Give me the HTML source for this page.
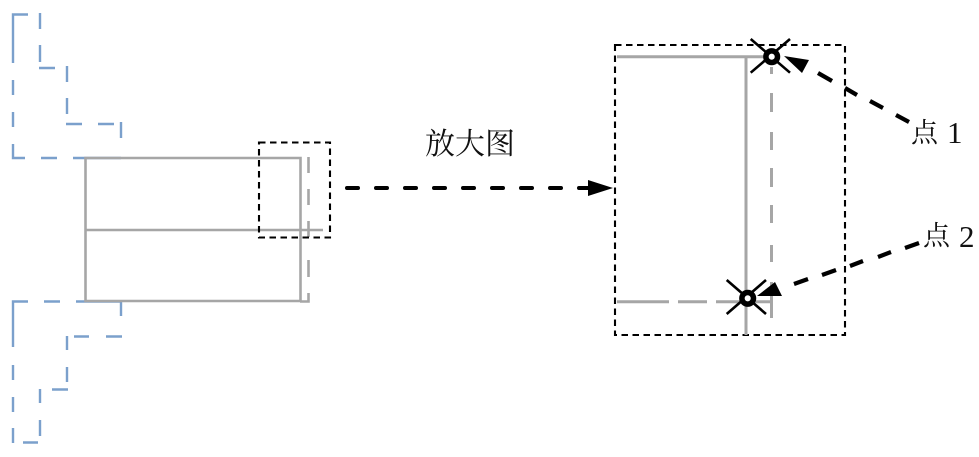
<!DOCTYPE html>
<html>
<head>
<meta charset="utf-8">
<style>
html,body{margin:0;padding:0;background:#fff;width:979px;height:457px;overflow:hidden}
svg{display:block}
text{font-family:"Liberation Serif","Noto Serif CJK SC",serif;fill:#111}
</style>
</head>
<body>
<svg width="979" height="457" viewBox="0 0 979 457" xmlns="http://www.w3.org/2000/svg">
<g fill="none" stroke="#7ba0cc" stroke-width="2.400">
<path d="M28 14.500H13V63M13 80V95M13 112V127M13 144V158H25M41 158H57M73 158H121"/>
<path d="M40 13V29M40 45V62M39 68H55M67 66V82M67 98V114M66 124H82M98 124H114M121 122V138"/>
<path d="M28 301.500H13V347M13 365V380M13 397V412M13 428V443M23 442.500H38M40 420V436M40 389V403M52 389.500H68M67 367V382M67 336V350M74 336.500H89M106 336.500H122M121 301V316M76 301.500H122M44 301.500H60"/>
</g>
<g fill="none" stroke="#a6a6a6" stroke-width="2.600">
<path d="M85.500 158H300.500V301H85.500ZM85 230H323"/>
<path d="M308.500 157V173M308.500 189V205M308.500 221V237M308.500 260V277M308.500 293V301.500H300"/>
</g>
<rect x="259" y="142.500" width="71" height="95" fill="none" stroke="#000" stroke-width="2.100" stroke-dasharray="6.500 4.500"/>
<path d="M347 188H358M376 188H387M405 188H416M434 188H445M463 188H474M492 188H503M521 188H532M550 188H561M579 188H592" stroke="#000" stroke-width="4" stroke-linecap="round" fill="none"/>
<polygon points="613,188 588,180 588,196" fill="#000"/>
<text x="425" y="154" font-size="30" textLength="90">放大图</text>
<rect x="615" y="45" width="230" height="290" fill="none" stroke="#000" stroke-width="2.100" stroke-dasharray="6.500 4.500"/>
<g fill="none" stroke="#a6a6a6" stroke-width="3">
<path d="M617 56.700H772M746 57V335"/>
<path d="M771.500 67V74M771.500 93V112M771.500 132V150M771.500 168V187M771.500 205V223M771.500 245V262M771.500 282V318"/>
<path d="M617 301.700H669M678 301.700H707M716 301.700H772"/>
</g>
<g stroke="#000" stroke-width="2.600" fill="none">
<path d="M750.700 39L790 72.700M790 39L750.700 72.700"/>
<path d="M726.700 280L766 314M766 280L726.700 314"/>
</g>
<circle cx="771.700" cy="56.700" r="5.800" fill="#fff" stroke="#000" stroke-width="5.500"/>
<circle cx="747.700" cy="298.300" r="5.800" fill="#fff" stroke="#000" stroke-width="5.500"/>
<polygon points="784,56 809,60 802,73" fill="#000"/>
<polygon points="757,296 775,282 782,296" fill="#000"/>
<path d="M818 73L832 81M845 88L857 95M870 101L883 108M896 115L909 122" stroke="#000" stroke-width="4.200" fill="none"/>
<path d="M794 284L808 279M822 275L836 270M850 266L863 261M878 257L891 252M905 248L919 243" stroke="#000" stroke-width="4.200" fill="none"/>
<text x="911" y="142" font-size="27">点</text>
<text x="947" y="143" font-size="31">1</text>
<text x="923" y="245" font-size="27">点</text>
<text x="959" y="247" font-size="31">2</text>
</svg>
</body>
</html>
